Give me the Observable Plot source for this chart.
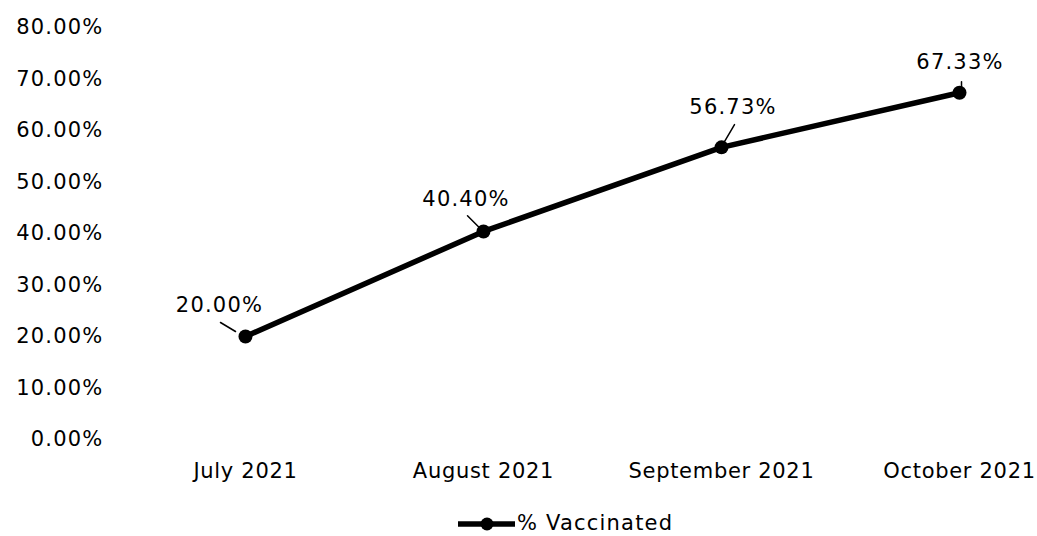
<!DOCTYPE html>
<html>
<head>
<meta charset="utf-8">
<script src="https://cdn.jsdelivr.net/npm/d3@7"></script>
<script src="https://cdn.jsdelivr.net/npm/@observablehq/plot@0.6"></script>
<style>
  html, body { margin: 0; padding: 0; background: #fff; }
  #wrap { position: relative; width: 1037px; height: 536px; overflow: hidden;
          font-family: 'DejaVu Sans', Verdana, sans-serif; font-size: 21px; letter-spacing: 1.2px; color: #000; }
  #legend-swatch { position: absolute; left: 458px; top: 512px; }
  #legend-text { position: absolute; left: 517px; top: 514px; line-height: 18px; white-space: nowrap; }
  g[aria-label="x-axis tick label"] { letter-spacing: 0.7px; }
</style>
</head>
<body>
<div id="wrap"></div>
<script>
// ---- data ----
const months = ["July 2021", "August 2021", "September 2021", "October 2021"];
const vaccinated = [20.00, 40.40, 56.73, 67.33];
const yTicks = [0, 10, 20, 30, 40, 50, 60, 70, 80];
const seriesName = "% Vaccinated";

// ---- layout (pixel offsets of data labels and their leader lines, relative to each point) ----
const labelOffsets = [[-26, -31], [-17.5, -32], [11.5, -40], [0.5, -30]];
const leaderLines = [[-10, -5, -25, -14], [-5, -4.7, -16, -15.7], [3, -5.7, 13, -22.7], [2, -5, 2, -11]];

const data = months.map((m, i) => ({month: m, value: vaccinated[i]}));
const fmt = v => v.toFixed(2) + "%";

const lineShape = {draw(context, l) { context.moveTo(0, 0); context.lineTo(0, -l); }};

const leaderMarks = data.map((d, i) => {
  const [sx, sy, ex, ey] = leaderLines[i];
  const len = Math.hypot(ex - sx, ey - sy);
  const rot = Math.atan2(ex - sx, -(ey - sy)) * 180 / Math.PI;
  return Plot.vector([d], {x: "month", y: "value", dx: sx, dy: sy, length: len, rotate: rot,
    anchor: "start", shape: lineShape, stroke: "#000", strokeWidth: 1.5});
});

const labelMarks = data.map((d, i) => Plot.text([d], {
  x: "month", y: "value", text: d => fmt(d.value), dx: labelOffsets[i][0], dy: labelOffsets[i][1], fill: "#000"
}));

const chart = Plot.plot({
  width: 1037,
  height: 510,
  marginLeft: 110,
  marginRight: 20,
  marginTop: 10,
  marginBottom: 50,
  style: {fontFamily: "'DejaVu Sans', Verdana, sans-serif", fontSize: "21px", color: "#000", background: "#fff", letterSpacing: "1.2px"},
  x: {type: "point", domain: months, range: [245, 959], padding: 0, label: null},
  y: {domain: [0, 80], range: [439, 27], label: null},
  marks: [
    Plot.axisY({ticks: yTicks, tickFormat: fmt, tickSize: 0, tickPadding: 7, label: null}),
    Plot.axisX({tickSize: 0, tickPadding: 2.6, label: null}),
    Plot.line(data, {x: "month", y: "value", stroke: "#000", strokeWidth: 5.5}),
    Plot.dot(data, {x: "month", y: "value", r: 7, fill: "#000"}),
    ...leaderMarks,
    ...labelMarks
  ]
});

const wrap = document.getElementById("wrap");
wrap.appendChild(chart);

// legend below the chart
const ns = "http://www.w3.org/2000/svg";
const sw = document.createElementNS(ns, "svg");
sw.setAttribute("id", "legend-swatch");
sw.setAttribute("width", 57); sw.setAttribute("height", 24);
const ln = document.createElementNS(ns, "line");
ln.setAttribute("x1", 0); ln.setAttribute("x2", 57); ln.setAttribute("y1", 12); ln.setAttribute("y2", 12);
ln.setAttribute("stroke", "#000"); ln.setAttribute("stroke-width", 5.5);
const ci = document.createElementNS(ns, "circle");
ci.setAttribute("cx", 29); ci.setAttribute("cy", 12); ci.setAttribute("r", 6.5); ci.setAttribute("fill", "#000");
sw.appendChild(ln); sw.appendChild(ci);
wrap.appendChild(sw);
const lt = document.createElement("div");
lt.id = "legend-text";
lt.textContent = seriesName;
wrap.appendChild(lt);
</script>
</body>
</html>
